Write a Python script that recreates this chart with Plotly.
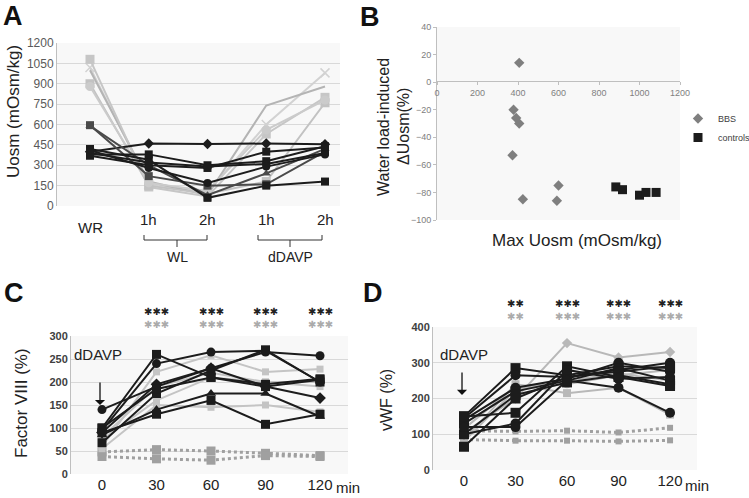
import plotly.graph_objects as go

W, H = 749, 498

# ---- panel A : urine osmolality, water load then dDAVP
a_x = [0, 1, 2, 3, 4]
a_ticks = ['WR', '1h', '2h', '1h', '2h']
a_bbs = [
    [400, 460, 456, 460, 455],
    [590, 300, 80, 240, 420],
    [595, 220, 150, 160, 400],
    [420, 340, 60, 150, 180],
    [380, 380, 300, 330, 440],
    [390, 320, 290, 310, 390],
    [370, 300, 280, 400, 430],
    [410, 280, 170, 290, 380],
]
a_bbs_sym = ['diamond', 'triangle-up', 'square', 'square', 'square', 'circle', 'square', 'circle']
a_ctrl = [
    [1020, 160, 100, 600, 980],
    [1000, 180, 80, 740, 880],
    [1080, 140, 70, 530, 800],
    [900, 150, 90, 180, 760],
    [880, 170, 110, 560, 780],
]
a_ctrl_sym = ['x-thin', 'circle', 'square', 'square', 'circle']

# ---- panel B : max Uosm vs water load induced change
b_bbs_x = [406, 378, 391, 406, 373, 600, 424, 592]
b_bbs_y = [14, -20, -26, -30, -53, -75, -85, -86]
b_ctrl_x = [883, 916, 1000, 1032, 1082]
b_ctrl_y = [-76, -78, -82, -80, -80]

# ---- panel C : factor VIII after dDAVP
t_min = [0, 30, 60, 90, 120]
c_black = [
    [140, 190, 230, 265, 257],
    [100, 260, 210, 195, 207],
    [95, 240, 265, 268, 200],
    [68, 175, 225, 270, 200],
    [90, 195, 230, 190, 165],
    [85, 140, 175, 175, 125],
    [90, 130, 160, 108, 130],
    [100, 185, 210, 190, 205],
]
c_black_sym = ['circle', 'square', 'circle', 'square', 'diamond', 'triangle-up', 'square', 'square']
c_gray = [
    [60, 222, 258, 222, 228],
    [80, 190, 220, 200, 190],
    [55, 150, 145, 150, 135],
    [75, 160, 210, 200, 200],
]
c_dot = [
    [48, 53, 50, 45, 40],
    [38, 33, 30, 40, 38],
]
c_stars = [3, 3, 3, 3]

# ---- panel D : vWF after dDAVP
d_black = [
    [150, 285, 265, 290, 285],
    [145, 265, 260, 280, 300],
    [140, 230, 255, 300, 275],
    [130, 220, 250, 285, 250],
    [100, 210, 245, 265, 240],
    [65, 200, 260, 275, 290],
    [150, 160, 290, 260, 235],
    [100, 130, 280, 255, 260],
    [120, 120, 250, 230, 160],
]
d_black_sym = ['square', 'circle', 'circle', 'square', 'square', 'square', 'square', 'circle', 'circle']
d_gray = [
    [105, 200, 355, 315, 330],
    [85, 240, 215, 230, 155],
    [115, 235, 240, 265, 280],
    [80, 225, 250, 270, 250],
]
d_gray_sym = ['diamond', 'square', 'circle', 'square']
d_dot = [
    [110, 108, 110, 105, 118],
    [85, 82, 82, 80, 83],
]
d_stars = [2, 3, 3, 3]

FONT = 'Liberation Sans, Arial, sans-serif'
BLACK = '#1c1c1c'


def fx(px):
    return px / W


def fy(py):
    return 1 - py / H


fig = go.Figure()


def add_line(x, y, xa, ya, color, sym, size=8, width=2, dash='solid'):
    fig.add_trace(go.Scatter(
        x=x, y=y, xaxis=xa, yaxis=ya, mode='lines+markers' if sym else 'lines',
        line=dict(color=color, width=width, dash=dash),
        marker=dict(symbol=sym or 'circle', size=size, color=color,
                    line=dict(color=color, width=1.5 if sym == 'x-thin' else 0)),
        showlegend=False, cliponaxis=False, hoverinfo='skip'))


# panel A
ctrl_cols = ['#d2d2d2', '#b4b4b4', '#c6c6c6', '#c2c2c2', '#cbcbcb']
for vals, sym, col in zip(a_ctrl, a_ctrl_sym, ctrl_cols):
    add_line(a_x, vals, 'x', 'y', col, None if col == '#b4b4b4' else sym, size=9)
for i, (vals, sym) in enumerate(zip(a_bbs, a_bbs_sym)):
    col = '#4a4a4a' if i in (1, 2) else BLACK
    add_line(a_x, vals, 'x', 'y', col, sym, size=8)

# panel B
fig.add_trace(go.Scatter(x=b_bbs_x, y=b_bbs_y, xaxis='x2', yaxis='y2', mode='markers',
                         name='BBS', marker=dict(symbol='diamond', size=8, color='#7f7f7f'),
                         cliponaxis=False))
fig.add_trace(go.Scatter(x=b_ctrl_x, y=b_ctrl_y, xaxis='x2', yaxis='y2', mode='markers',
                         name='controls', marker=dict(symbol='square', size=9, color=BLACK),
                         cliponaxis=False))

# panel C
for vals in c_dot:
    add_line(t_min, vals, 'x3', 'y3', '#a0a0a0', 'square', size=9, width=3, dash='dot')
for vals in c_gray:
    add_line(t_min, vals, 'x3', 'y3', '#c4c4c4', 'square', size=7)
for vals, sym in zip(c_black, c_black_sym):
    add_line(t_min, vals, 'x3', 'y3', BLACK, sym, size=9)

# panel D
for vals in d_dot:
    add_line(t_min, vals, 'x4', 'y4', '#a0a0a0', 'square', size=6, width=3, dash='dot')
for vals, sym in zip(d_gray, d_gray_sym):
    add_line(t_min, vals, 'x4', 'y4', '#b8b8b8', sym, size=8)
for vals, sym in zip(d_black, d_black_sym):
    add_line(t_min, vals, 'x4', 'y4', BLACK, sym, size=10)

grid = '#d9d9d9'
axline = '#bfbfbf'
tick_small = dict(family=FONT, size=12, color='#595959')
tick_bold = dict(family=FONT, size=11, color='#404040', weight='bold')
tick_x = dict(family=FONT, size=15, color='#222222')

fig.update_layout(
    width=W, height=H, margin=dict(l=0, r=0, t=0, b=0, autoexpand=False),
    paper_bgcolor='white', plot_bgcolor='#f8f8f8',
    font=dict(family=FONT),
    # A
    xaxis=dict(domain=[fx(57), fx(340)], range=[-0.5617, 4.2553], showgrid=False,
               zeroline=False, showticklabels=False, showline=False),
    yaxis=dict(domain=[fy(206), fy(43)], range=[0, 1200], tickvals=list(range(0, 1201, 150)),
               gridcolor=grid, zeroline=False, showline=True, linecolor=axline,
               tickfont=tick_small, anchor='x'),
    # B
    xaxis2=dict(domain=[fx(437), fx(680)], range=[0, 1200], dtick=200, anchor='free',
                position=fy(81), showgrid=False, zeroline=False, showline=True, linecolor=axline,
                ticks='outside', ticklen=3, tickcolor=axline,
                tickfont=dict(family=FONT, size=9, color='#808080')),
    yaxis2=dict(domain=[fy(220), fy(27)], range=[-100, 40], dtick=20, anchor='x2',
                showgrid=False, zeroline=False, showline=True, linecolor=axline,
                ticks='outside', ticklen=3, tickcolor=axline,
                tickfont=dict(family=FONT, size=9, color='#808080')),
    # C
    xaxis3=dict(domain=[fx(71), fx(348)], range=[-17.06, 135.4], tickvals=t_min,
                ticktext=['0', '30', '60', '90', '120'], showgrid=False, zeroline=False,
                showline=False, tickfont=tick_x, anchor='y3'),
    yaxis3=dict(domain=[fy(474), fy(336)], range=[0, 300], dtick=50, anchor='x3',
                gridcolor=grid, zeroline=False, showline=True, linecolor=axline,
                tickfont=tick_bold),
    # D
    xaxis4=dict(domain=[fx(433), fx(697)], range=[-18.06, 135.7], tickvals=t_min,
                ticktext=['0', '30', '60', '90', '120'], showgrid=False, zeroline=False,
                showline=False, tickfont=tick_x, anchor='y4'),
    yaxis4=dict(domain=[fy(470), fy(327)], range=[0, 400], dtick=100, anchor='x4',
                gridcolor=grid, zeroline=False, showline=True, linecolor=axline,
                tickfont=tick_bold),
    legend=dict(x=fx(678), y=fy(104), xanchor='left', yanchor='top',
                font=dict(family=FONT, size=9, color='#404040'),
                bgcolor='rgba(0,0,0,0)', itemwidth=30, tracegroupgap=2),
)

ann = []


def text(x, y, s, size, color='#111111', bold=False, angle=0, xref='paper', yref='paper',
         xshift=0, family=FONT):
    ann.append(dict(x=x, y=y, xref=xref, yref=yref, text=s, showarrow=False,
                    textangle=angle, xshift=xshift,
                    font=dict(family=family, size=size, color=color,
                              weight='bold' if bold else 'normal'),
                    xanchor='center', yanchor='middle'))


# panel letters
text(fx(13), fy(16), 'A', 27, bold=True)
text(fx(370), fy(17), 'B', 27, bold=True)
text(fx(14), fy(293), 'C', 27, bold=True)
text(fx(373), fy(293), 'D', 27, bold=True)

# axis titles
text(fx(13), fy(112), 'Uosm (mOsm/kg)', 17, color='#222222', angle=-90)
text(fx(383), fy(127), 'Water load-induced', 16, color='#222222', angle=-90)
text(fx(403), fy(127), 'ΔUosm(%)', 16, color='#222222', angle=-90)
text(fx(577), fy(240), 'Max Uosm (mOsm/kg)', 17, color='#222222')
text(fx(21), fy(403), 'Factor VIII (%)', 17, color='#222222', angle=-90)
text(fx(386), fy(400), 'vWF (%)', 16, color='#222222', angle=-90)

# panel A category labels
for i, lab in enumerate(a_ticks):
    text(a_x[i], fy(227 if lab == 'WR' else 220), lab, 15, color='#222222', xref='x')
text(fx(177), fy(257), 'WL', 14, color='#222222')
text(fx(290), fy(257), 'dDAVP', 14, color='#222222')

# "min" after the last tick
text(120, fy(487), 'min', 15, color='#222222', xref='x3', xshift=28)
text(120, fy(485), 'min', 15, color='#222222', xref='x4', xshift=27)

# significance stars: black row over a grey row
STAR = '\u2731'
SFONT = 'DejaVu Sans, sans-serif'
for t, n in zip(t_min[1:], c_stars):
    text(t, fy(311), STAR * n, 10, color='#222222', xref='x3', family=SFONT)
    text(t, fy(324), STAR * n, 10, color='#ababab', xref='x3', family=SFONT)
for t, n in zip(t_min[1:], d_stars):
    text(t, fy(303), STAR * n, 10, color='#222222', xref='x4', family=SFONT)
    text(t, fy(316), STAR * n, 10, color='#ababab', xref='x4', family=SFONT)

# dDAVP arrows
text(0, 259, 'dDAVP', 15, color='#222222', xref='x3', yref='y3', xshift=-4)
text(0, 322, 'dDAVP', 15, color='#222222', xref='x4', yref='y4')
ann.append(dict(x=0, y=150, xref='x3', yref='y3', ax=0, ay=-24, text='', showarrow=True,
                arrowhead=1, arrowsize=1.3, arrowwidth=1.3, arrowcolor='#111111', xshift=-2))
ann.append(dict(x=0, y=210, xref='x4', yref='y4', ax=0, ay=-24, text='', showarrow=True,
                arrowhead=1, arrowsize=1.3, arrowwidth=1.3, arrowcolor='#111111', xshift=-2))
fig.update_layout(annotations=ann)

# brackets under panel A
shapes = []
for left, mid, right in [(144, 177, 207), (258, 290, 322)]:
    pts = [((left, 235), (left, 240)), ((left, 240), (right, 240)),
           ((right, 235), (right, 240)), ((mid, 240), (mid, 247))]
    for (x0, y0), (x1, y1) in pts:
        shapes.append(dict(type='line', xref='paper', yref='paper',
                           x0=fx(x0), y0=fy(y0), x1=fx(x1), y1=fy(y1),
                           line=dict(color='#333333', width=1)))
fig.update_layout(shapes=shapes)

# page body margin would push the 749x498 figure off the window
fig.write_html('out.html', config={'displayModeBar': False},
               post_script="document.body.style.margin='0';")
